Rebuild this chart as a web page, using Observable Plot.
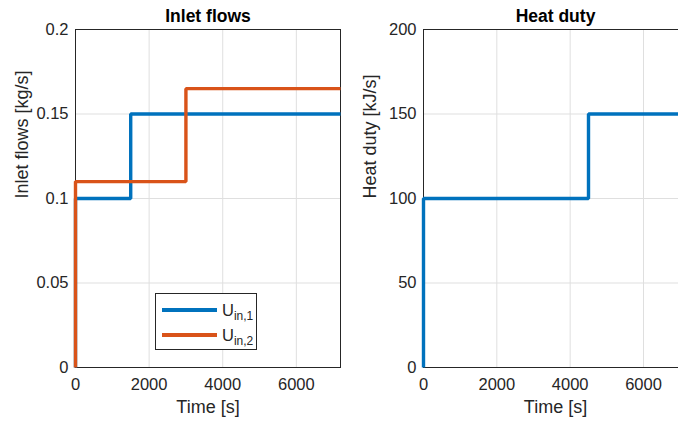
<!DOCTYPE html>
<html>
<head>
<meta charset="utf-8">
<script src="https://cdn.jsdelivr.net/npm/d3@7"></script>
<script src="https://cdn.jsdelivr.net/npm/@observablehq/plot@0.6"></script>
<style>
  html, body { margin: 0; padding: 0; background: #fff; overflow: hidden; width: 678px; height: 423px; }
  #wrap { position: relative; width: 678px; height: 423px; overflow: hidden; }
  .panel { position: absolute; top: 0; }
  #legend { position: absolute; left: 155px; top: 293px; width: 102px; height: 57px; border: 1px solid #262626; background: #fff; box-sizing: border-box;
    font-family: "Liberation Sans", Arial, Helvetica, sans-serif; font-size: 16.5px; color: #262626; }
  .entry { position: absolute; left: 6px; height: 20px; display: flex; align-items: center; }
  .entry .sw { width: 55px; height: 3.4px; margin-right: 5px; }
  .entry sub { font-size: 12px; vertical-align: -4px; line-height: 0; }
</style>
</head>
<body>
<div id="wrap"></div>
<script>
// ---- data ----
const flowTime1 = [0, 0, 1500, 1500, 7200];
const flowU1    = [0, 0.1, 0.1, 0.15, 0.15];
const flowTime2 = [0, 0, 3000, 3000, 7200];
const flowU2    = [0, 0.11, 0.11, 0.165, 0.165];
const dutyTime  = [0, 0, 4500, 4500, 7200];
const dutyQ     = [0, 100, 100, 150, 150];

const xTicks = [0, 2000, 4000, 6000];
const xTickLabels = ["0", "2000", "4000", "6000"];
const flowTicks = [0, 0.05, 0.1, 0.15, 0.2];
const flowTickLabels = ["0", "0.05", "0.1", "0.15", "0.2"];
const dutyTicks = [0, 50, 100, 150, 200];
const dutyTickLabels = ["0", "50", "100", "150", "200"];

const seriesNames = ["U_in,1", "U_in,2"];
const colors = ["#0072BD", "#D95319"];

const FONT = '"Liberation Sans", Arial, Helvetica, sans-serif';
const TXT = "#262626";

function panel({left, width, marginLeft, marginRight, yDomain, yTicks, yLabels, title, ylabel, series, xMax}) {
  const marks = [
    Plot.gridX(xTicks, {stroke: "#dfdfdf", strokeOpacity: 1}),
    Plot.gridY(yTicks, {stroke: "#dfdfdf", strokeOpacity: 1}),
    Plot.axisX(xTicks, {tickSize: 0, tickPadding: 11, fontSize: 16.5, fill: TXT, label: null,
      tickFormat: d => xTickLabels[xTicks.indexOf(d)]}),
    Plot.axisY(yTicks, {tickSize: 0, tickPadding: 7, fontSize: 16.5, fill: TXT, label: null,
      tickFormat: d => yLabels[yTicks.indexOf(d)]}),
    Plot.frame({stroke: TXT, strokeWidth: 1}),
    ...series.map(s => Plot.line(s.t.map((t, i) => ({t, v: s.v[i]})),
      {x: "t", y: "v", stroke: s.color, strokeWidth: 3.4, strokeLinejoin: "miter", strokeLinecap: "butt"})),
    Plot.text([title], {frameAnchor: "top", lineAnchor: "middle", dy: -13, fontSize: 17.5, fontWeight: "bold", fill: "#000"}),
    Plot.text([ylabel], {frameAnchor: "left", dx: -53, rotate: -90, fontSize: 18, fill: TXT}),
    Plot.text(["Time [s]"], {frameAnchor: "bottom", lineAnchor: "middle", dy: 40, fontSize: 18, fill: TXT})
  ];
  const svg = Plot.plot({
    width, height: 423,
    marginLeft, marginRight, marginTop: 29, marginBottom: 56,
    x: {domain: [0, xMax]},
    y: {domain: yDomain},
    style: {fontFamily: FONT, background: "transparent", overflow: "visible"},
    marks
  });
  svg.classList.add("panel");
  svg.style.left = left + "px";
  return svg;
}

const wrap = document.getElementById("wrap");
wrap.appendChild(panel({
  left: 0, width: 345, marginLeft: 75, marginRight: 5,
  yDomain: [0, 0.2], yTicks: flowTicks, yLabels: flowTickLabels,
  title: "Inlet flows", ylabel: "Inlet flows [kg/s]", xMax: 7200,
  series: [
    {t: flowTime1, v: flowU1, color: colors[0]},
    {t: flowTime2, v: flowU2, color: colors[1]}
  ]
}));
wrap.appendChild(panel({
  left: 340, width: 350, marginLeft: 83, marginRight: 3,
  yDomain: [0, 200], yTicks: dutyTicks, yLabels: dutyTickLabels,
  title: "Heat duty", ylabel: "Heat duty [kJ/s]", xMax: 7200,
  series: [
    {t: dutyTime, v: dutyQ, color: colors[0]}
  ]
}));

// legend
const lg = document.createElement("div");
lg.id = "legend";
seriesNames.forEach((name, i) => {
  const [base, sub] = name.split("_");
  const e = document.createElement("div");
  e.className = "entry";
  e.style.top = (6 + i * 25) + "px";
  e.innerHTML = `<span class="sw" style="background:${colors[i]}"></span><span>${base}<sub>${sub}</sub></span>`;
  lg.appendChild(e);
});
wrap.appendChild(lg);
</script>
</body>
</html>
